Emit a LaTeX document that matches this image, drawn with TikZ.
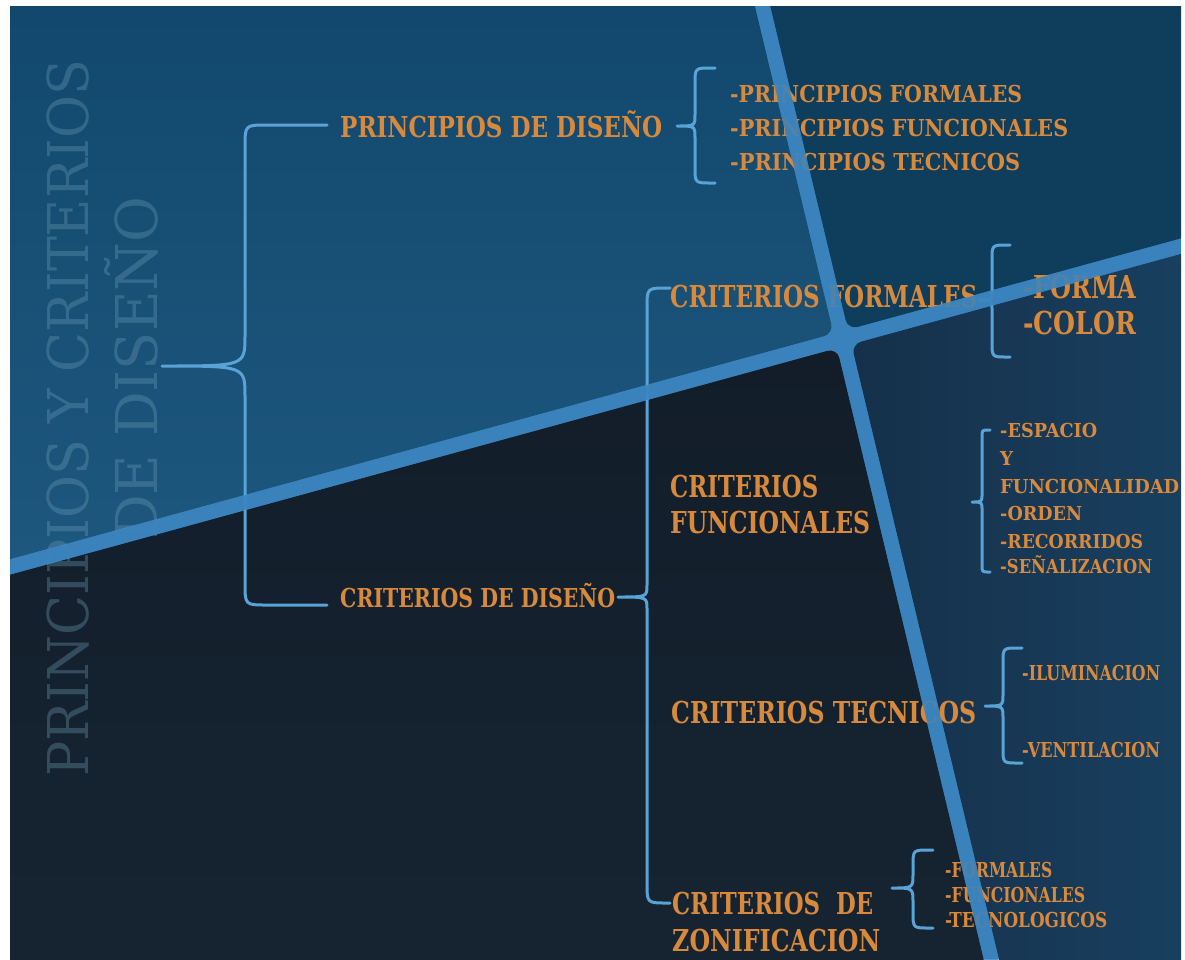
\documentclass[tikz,border=0pt]{standalone}
\usepackage{fontspec}
\usepackage{graphicx}
\setmainfont{DejaVu Serif}
\usetikzlibrary{calc}

\definecolor{lnc}{HTML}{3A82BC}
\definecolor{ulc}{HTML}{10456A}
\definecolor{ulb}{HTML}{1E587F}
\definecolor{urc}{HTML}{0F3D5C}
\definecolor{llc}{HTML}{121D29}
\definecolor{llb}{HTML}{172634}
\definecolor{lrc}{HTML}{15304A}
\definecolor{lrb}{HTML}{1A4567}
\definecolor{txtc}{HTML}{D8893C}
\definecolor{brcc}{HTML}{5AA3D6}
\definecolor{ttlc}{HTML}{6A9AB5}

% set a text to a given width and cap height (in px = pt)
\newsavebox\fitbox
\newsavebox\capbox
\newcommand{\fitt}[3]{\sbox\fitbox{#3}\sbox\capbox{H}%
  \scalebox{\fpeval{(#1)/(\the\wd\fitbox)}}[\fpeval{(#2)/(\the\ht\capbox)}]{#3}}

% curly brace: name, tip x, mid y, bar x, arm x, top y, bottom y, corner r, tip r
\newcommand{\curly}[9]{%
  \coordinate (#1) at (#2,#3);
  \draw[brc] (#5,#6) -- ({#4+#8},#6) .. controls (#4,#6) .. (#4,{#6+#8})
    -- (#4,{#3-#9}) .. controls (#4,#3) .. (#1)
    .. controls (#4,#3) .. (#4,{#3+#9})
    -- (#4,{#7-#8}) .. controls (#4,#7) .. ({#4+#8},#7) -- (#5,#7);
}

\begin{document}
\begin{tikzpicture}[x=1pt,y=-1pt,
  lbl/.style={text=txtc,inner sep=0pt,anchor=base west,font=\bfseries\fontsize{20}{24}\selectfont},
  ttl/.style={text=ttlc,text opacity=0.36,inner sep=0pt,anchor=base west,rotate=90,
    font=\fontsize{40}{48}\selectfont},
  brc/.style={draw=brcc,line width=3pt,line cap=round,line join=round},
  lne/.style={draw=lnc,line width=14pt,draw opacity=0.85}
]
\useasboundingbox[fill=white] (0,0) rectangle (1185,959);

% background panes
\coordinate (dA) at (-100,597.1);
\coordinate (dB) at (1300,213.5);
\coordinate (sA) at (737.1,-100);
\coordinate (sB) at (1025.1,1100);
\begin{scope}
  \clip (10,6) rectangle (1181,959);
  \fill[lnc] (10,6) rectangle (1181,959);
  \shade[top color=ulc,bottom color=ulb,rounded corners=10pt]
    (-100,589.3) -- (-100,-100) -- (729.4,-100) -- (833.5,333.6) -- cycle;
  \fill[urc,rounded corners=10pt]
    (744.8,-100) -- (1300,-100) -- (1300,205.7) -- (847.9,329.6) -- cycle;
  \shade[top color=llc,bottom color=llb,rounded corners=10pt]
    (837.0,348.2) -- (-100,604.9) -- (-100,1100) -- (1017.4,1100) -- cycle;
  \shade[left color=lrc,right color=lrb,rounded corners=10pt]
    (851.4,344.3) -- (1032.8,1100) -- (1300,1100) -- (1300,221.3) -- cycle;
\end{scope}

% title
\node[ttl] (tit1) at (88,777) {\fitt{717}{41}{PRINCIPIOS Y CRITERIOS}};
\node[ttl] (tit2) at (157,540) {\fitt{343}{42}{DE DISEÑO}};

% braces
\curly{bmain}{162}{366}{245}{327}{125}{605}{22}{30}
\curly{bcrit}{618}{597}{647}{670}{288}{903}{20}{12}
\curly{bprin}{677}{126}{695}{715}{68}{183}{16}{12}
\curly{bform}{978}{300}{992}{1010}{245}{357}{15}{10}
\curly{besp}{972}{502}{982}{990}{430}{572}{7}{8}
\curly{btec}{985}{706}{1003}{1022}{648}{763}{15}{12}
\curly{bzon}{892}{888}{913}{933}{850}{928}{16}{14}

% texts
\node[lbl] (pdis) at (340,137) {\fitt{322}{21}{PRINCIPIOS DE DISEÑO}};
\node[lbl] (pfor) at (730,102.5) {\fitt{292}{17}{-PRINCIPIOS FORMALES}};
\node[lbl] (pfun) at (730,136.5) {\fitt{338}{17}{-PRINCIPIOS FUNCIONALES}};
\node[lbl] (ptec) at (730,170.5) {\fitt{290}{17}{-PRINCIPIOS TECNICOS}};

\node[lbl] (cdis) at (340,607) {\fitt{275}{19}{CRITERIOS DE DISEÑO}};

\node[lbl] (cfor) at (670,307) {\fitt{307}{22}{CRITERIOS FORMALES}};
\node[lbl] (forma) at (1023,298.5) {\fitt{113}{23}{-FORMA}};
\node[lbl] (color) at (1023,334.5) {\fitt{113}{23}{-COLOR}};

\node[lbl] (cfun1) at (670,497) {\fitt{148}{22}{CRITERIOS}};
\node[lbl] (cfun2) at (670,533) {\fitt{200}{22}{FUNCIONALES}};
\node[lbl] (esp) at (1000,437) {\fitt{97}{14}{-ESPACIO}};
\node[lbl] (yy) at (1000,465) {\fitt{13}{14}{Y}};
\node[lbl] (funcd) at (1000,493) {\fitt{179}{14}{FUNCIONALIDAD}};
\node[lbl] (orden) at (1000,520) {\fitt{82}{14}{-ORDEN}};
\node[lbl] (recor) at (1000,548) {\fitt{143}{14}{-RECORRIDOS}};
\node[lbl] (senal) at (1000,573) {\fitt{152}{14}{-SEÑALIZACION}};

\node[lbl] (ctec) at (671,723) {\fitt{305}{22}{CRITERIOS TECNICOS}};
\node[lbl] (ilum) at (1022,680) {\fitt{138}{15}{-ILUMINACION}};
\node[lbl] (vent) at (1022,757) {\fitt{138}{15}{-VENTILACION}};

\node[lbl] (czon1) at (672,914) {\fitt{201}{22}{CRITERIOS\ \ DE}};
\node[lbl] (czon2) at (672,951) {\fitt{208}{22}{ZONIFICACION}};
\node[lbl] (zfor) at (945,877) {\fitt{107}{15}{-FORMALES}};
\node[lbl] (zfun) at (945,902) {\fitt{140}{15}{-FUNCIONALES}};
\node[lbl] (ztec) at (945,927) {\fitt{162}{15}{-TECNOLOGICOS}};

% bars over the texts
\begin{scope}
  \clip (10,6) rectangle (1181,959);
  \draw[lne] (dA) -- (dB);
  \draw[lne] (sA) -- (sB);
\end{scope}
\end{tikzpicture}
\end{document}
